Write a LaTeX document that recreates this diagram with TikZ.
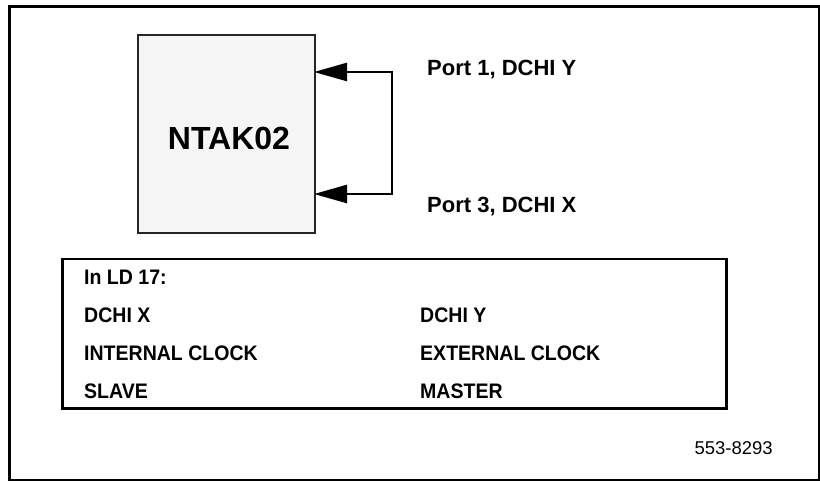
\documentclass[tikz,border=0pt]{standalone}
\usepackage{fontspec}
\setmainfont{Liberation Sans}
\newfontfamily\narrowsans[FakeStretch=0.93]{Liberation Sans}
\usetikzlibrary{arrows.meta}
\begin{document}
\begin{tikzpicture}[x=1pt,y=-1pt,
  frame/.style={draw=black,line width=3pt},
  cardbox/.style={draw=black!85,line width=2pt,fill=black!4},
  loop/.style={draw=black,line width=2.5pt,
    {Triangle[length=33pt,width=18pt]}-{Triangle[length=33pt,width=18pt]}},
  bigtext/.style={font=\fontsize{32}{36}\selectfont\bfseries},
  porttext/.style={font=\fontsize{22}{26}\selectfont\bfseries,anchor=west,inner sep=0pt},
  ldtext/.style={font=\narrowsans\fontsize{21}{24}\selectfont\bfseries,anchor=west,inner sep=0pt},
  reftext/.style={font=\fontsize{18.5}{22}\selectfont,anchor=east,inner sep=0pt}]
\useasboundingbox (0,0) rectangle (820,481);
\fill[white] (0,0) rectangle (820,481);
\node[frame,minimum width=810pt,minimum height=473.5pt,anchor=north west,inner sep=0pt] (outer) at (7.5,5) {};
\node[cardbox,minimum width=177pt,minimum height=198pt,anchor=north west,inner sep=0pt] (card) at (137,34) {};
\node[bigtext] (cardlabel) at (229,138) {NTAK02};
\coordinate (in1) at (314,72);
\coordinate (c1) at (392,72);
\coordinate (c3) at (392,194);
\coordinate (in3) at (314,194);
\draw[loop] (in1) -- (c1) -- (c3) -- (in3);
\node[porttext] (p1) at (427,70) {Port 1, DCHI Y};
\node[porttext] (p3) at (427,207) {Port 3, DCHI X};
\node[draw=black,line width=2.5pt,minimum width=664pt,minimum height=149pt,anchor=north west,inner sep=0pt] (ld) at (61,258) {};
\node[ldtext] (ldh) at (84,277) {In LD 17:};
\node[ldtext] (lx) at (84,315) {DCHI X};
\node[ldtext] (li) at (84,353) {INTERNAL CLOCK};
\node[ldtext] (ls) at (84,391) {SLAVE};
\node[ldtext] (ry) at (420,315) {DCHI Y};
\node[ldtext] (re) at (420,353) {EXTERNAL CLOCK};
\node[ldtext] (rm) at (420,391) {MASTER};
\node[reftext] (num) at (773,448) {553-8293};
\end{tikzpicture}
\end{document}
